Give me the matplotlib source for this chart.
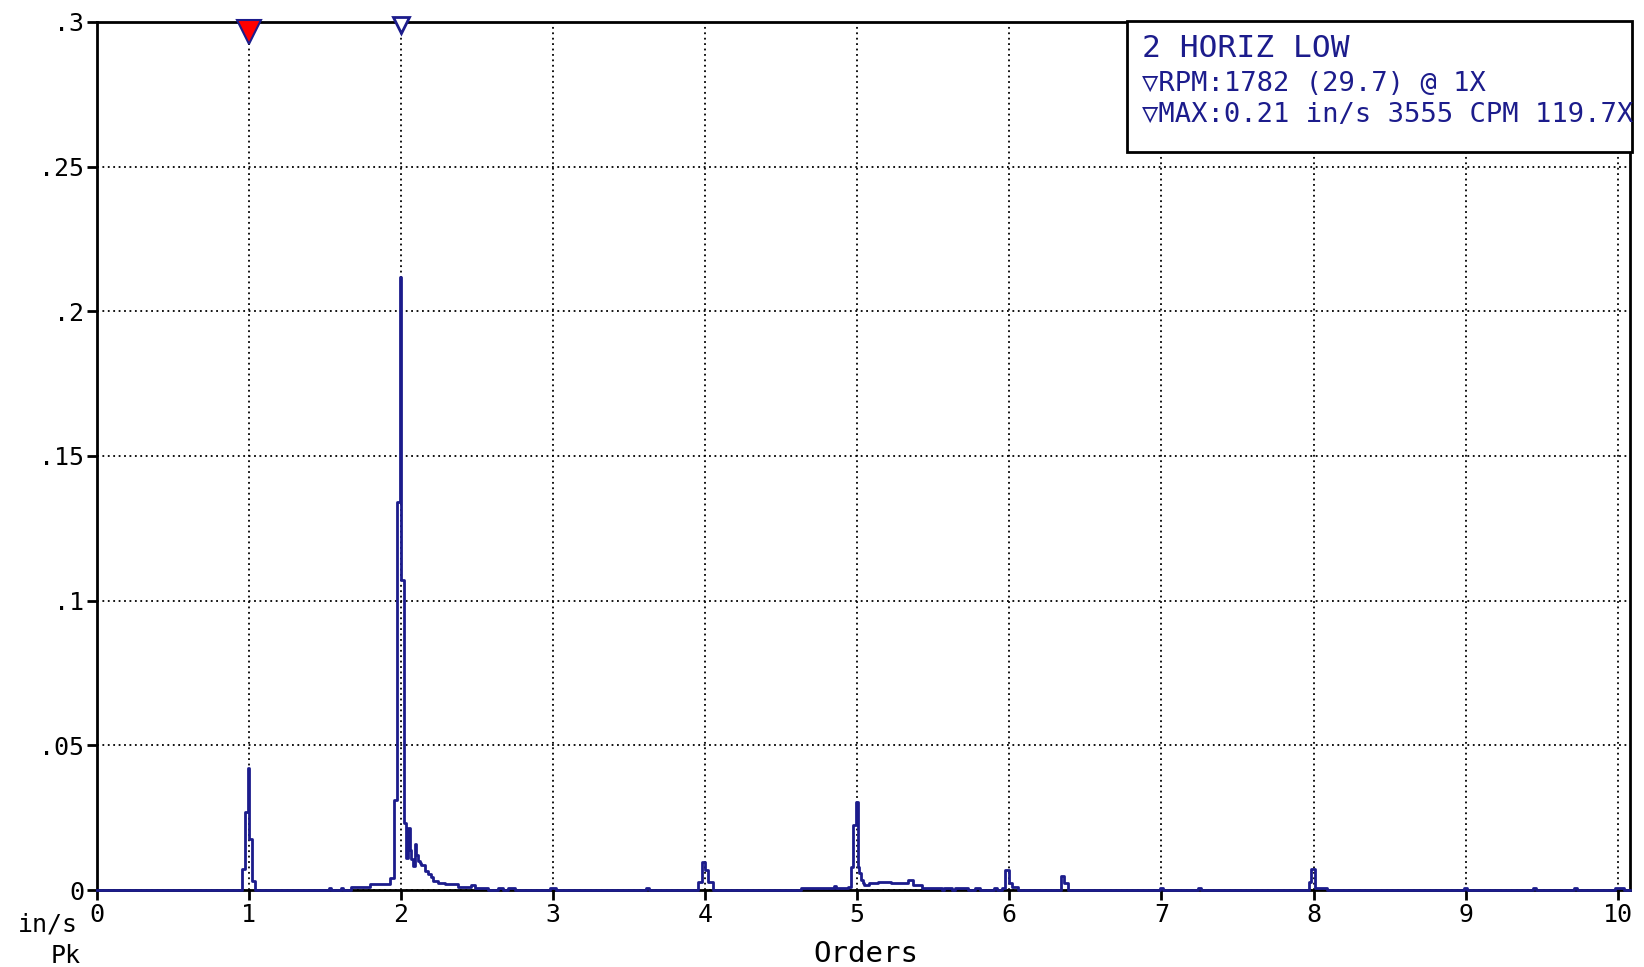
import matplotlib
matplotlib.use('Agg')
import matplotlib.pyplot as plt
from matplotlib.patches import Rectangle
from matplotlib.transforms import offset_copy

NAVY = '#1c1c8c'

# spectrum, step-post breakpoints: (order, in/s pk)
orders = [0.0,
          0.956, 0.978, 0.996, 1.0, 1.022, 1.04,
          1.53, 1.54, 1.61, 1.62, 1.67, 1.80, 1.93, 1.955, 1.978, 1.997, 2.002,
          2.022, 2.037, 2.048, 2.059, 2.070, 2.081, 2.092, 2.103, 2.114, 2.125,
          2.136, 2.158, 2.180, 2.201, 2.212, 2.245, 2.289, 2.377, 2.464, 2.486,
          2.574, 2.640, 2.672, 2.705, 2.749,
          2.98, 3.02, 3.61, 3.63,
          3.956, 3.978, 4.0, 4.022, 4.055,
          4.63, 4.85, 4.861, 4.94, 4.96, 4.975, 4.993, 5.004, 5.015, 5.026,
          5.037, 5.048, 5.08, 5.137, 5.225, 5.335, 5.368, 5.423, 5.555,
          5.57, 5.62, 5.64, 5.73, 5.775, 5.81, 5.90, 5.92,
          5.955, 5.974, 6.0, 6.018, 6.06,
          6.34, 6.362, 6.384,
          6.99, 7.01, 7.24, 7.26,
          7.967, 7.985, 8.007, 8.088,
          8.99, 9.01, 9.44, 9.46, 9.71, 9.73, 9.98, 10.04, 10.08]
amps = [0.0,
        0.0071, 0.027, 0.042, 0.0175, 0.003, 0.0,
        0.0006, 0.0, 0.0006, 0.0, 0.0012, 0.002, 0.004, 0.031, 0.134, 0.212, 0.107,
        0.0233, 0.011, 0.0216, 0.014, 0.0107, 0.0084, 0.016, 0.012, 0.010, 0.0095,
        0.0085, 0.0067, 0.0055, 0.0045, 0.0032, 0.0026, 0.002, 0.0009, 0.0017, 0.0006,
        0.0, 0.0006, 0.0, 0.0006, 0.0,
        0.0006, 0.0, 0.0006, 0.0,
        0.0029, 0.0098, 0.0069, 0.0029, 0.0,
        0.0006, 0.0014, 0.0006, 0.0012, 0.008, 0.0224, 0.0305, 0.008, 0.006, 0.0035,
        0.0025, 0.0017, 0.0023, 0.0029, 0.0026, 0.0035, 0.0017, 0.0006, 0.0,
        0.0006, 0.0, 0.0006, 0.0, 0.0006, 0.0, 0.0006, 0.0,
        0.0006, 0.0069, 0.0023, 0.0012, 0.0,
        0.005, 0.0023, 0.0,
        0.0007, 0.0, 0.0007, 0.0,
        0.0029, 0.0071, 0.0006, 0.0,
        0.0006, 0.0, 0.0006, 0.0, 0.0006, 0.0, 0.0008, 0.0, 0.0]

x_ticks = list(range(0, 11))
y_ticks = [0, 0.05, 0.1, 0.15, 0.2, 0.25, 0.3]
y_labels = ['0', '.05', '.1', '.15', '.2', '.25', '.3']
rpm_marker = 1.0
max_marker = 2.0
info_lines = ['2 HORIZ LOW',
              '\u25bdRPM:1782 (29.7) @ 1X',
              '\u25bdMAX:0.21 in/s 3555 CPM 119.7X']

MONO = ['DejaVu Sans Mono', 'DejaVu Sans']

fig = plt.figure(figsize=(16.44, 9.67), dpi=100)
ax = fig.add_axes([0.0587, 0.0796, 0.9328, 0.8977])

ax.plot(orders, amps, drawstyle='steps-post', color=NAVY, lw=2.0,
        zorder=5, clip_on=False)

ax.set_xlim(0, 10.08)
ax.set_ylim(0, 0.3)
ax.set_xticks(x_ticks)
ax.set_xticklabels([str(v) for v in x_ticks], family=MONO, fontsize=18)
ax.set_yticks(y_ticks)
ax.set_yticklabels(y_labels, family=MONO, fontsize=18)
ax.tick_params(direction='out', length=7, width=2, pad=2, colors='black')
ax.grid(True, color='black', linestyle=(0, (1, 2)), lw=1.3)
for s in ax.spines.values():
    s.set_linewidth(2)
    s.set_color('black')

# markers at top
off = offset_copy(ax.transData, fig=fig, y=-7, units='points')
ax.plot([rpm_marker], [0.3], marker='v', ms=17, mfc='red', mec=NAVY, mew=1.5,
        transform=off, clip_on=False, zorder=8)
off2 = offset_copy(ax.transData, fig=fig, y=-2, units='points')
ax.plot([max_marker], [0.3], marker='v', ms=11, mfc='white', mec=NAVY, mew=2,
        transform=off2, clip_on=False, zorder=8)

# info box
box = Rectangle((0.672, 0.850), 0.329, 0.151, transform=ax.transAxes,
                facecolor='white', edgecolor='black', lw=2, zorder=6, clip_on=False)
ax.add_patch(box)
ys = [0.969, 0.929, 0.893]
sizes = [22.5, 19.5, 19.5]
for txt, yy, fs in zip(info_lines, ys, sizes):
    t = ax.text(0.682, yy, txt, transform=ax.transAxes, family=MONO, fontsize=fs,
                color=NAVY, va='center', ha='left', zorder=7)
    t.set_clip_path(box)

# axis unit labels
ax.text(-0.012, -0.026, 'in/s', transform=ax.transAxes, family=MONO, fontsize=18,
        ha='right', va='top')
ax.text(-0.02, -0.062, 'Pk', transform=ax.transAxes, family=MONO, fontsize=18,
        ha='center', va='top')
ax.set_xlabel('Orders', family=MONO, fontsize=21, labelpad=0)
ax.xaxis.set_label_coords(0.502, -0.058)
ax.xaxis.label.set_va('top')

fig.savefig('out.png', dpi=100)
